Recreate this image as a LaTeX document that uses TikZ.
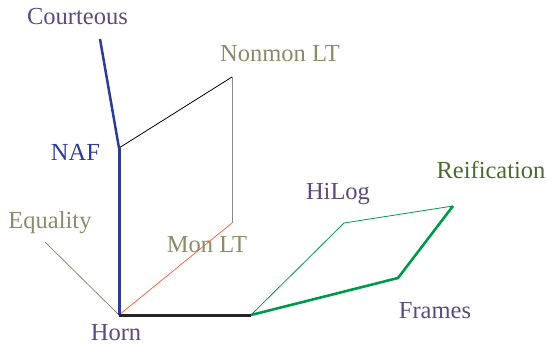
\documentclass[tikz,border=0pt]{standalone}
\usepackage{fontspec}
\setmainfont{Liberation Serif}
\definecolor{cpurple}{HTML}{5E4A7E}
\definecolor{cblue}{HTML}{2E3C96}
\definecolor{colive}{HTML}{8A8C6C}
\definecolor{cdgreen}{HTML}{4A6A2E}
\definecolor{cgreen}{HTML}{00994A}
\definecolor{cred}{HTML}{F06A4A}
\definecolor{cgray}{HTML}{8A8A8A}
\tikzset{lbl/.style={inner sep=0pt, anchor=base, font=\fontsize{24.5}{28}\selectfont}}
\begin{document}
\begin{tikzpicture}[x=1pt,y=-1pt]
\useasboundingbox (0,0) rectangle (548,345);
% points
\coordinate (horn) at (119,315);
\coordinate (naf) at (119,148);
\coordinate (court) at (100,39);
\coordinate (nonmon) at (232,77);
\coordinate (mon) at (232,223);
\coordinate (eq) at (45,242);
\coordinate (mid) at (251,315);
\coordinate (hilog) at (344,223);
\coordinate (reif) at (453,206);
\coordinate (frames) at (398,278);
% lines
\draw[colive, line width=0.8pt] (horn) -- (eq);
\draw[cred, line width=0.8pt] (horn) -- (mon);
\draw[cgray, line width=0.8pt] (mon) -- (nonmon);
\draw[black, line width=0.8pt] (naf) -- (nonmon);
\draw[cblue, line width=3pt] (horn) -- (naf);
\draw[cblue, line width=2.5pt] (naf) -- (court);
\draw[cgreen, line width=0.8pt] (mid) -- (hilog) -- (reif);
\draw[cgreen, line width=2.6pt, line join=round] (mid) -- (frames) -- (reif);
\draw[black!85, line width=3pt] (horn) -- (mid);
% labels
\node[lbl, text=cpurple] (lcourt) at (77.5,25) {Courteous};
\node[lbl, text=cblue] (lnaf) at (75.5,160) {NAF};
\node[lbl, text=colive] (lnonmon) at (280,61) {Nonmon LT};
\node[lbl, text=colive] (lmon) at (207,252) {Mon LT};
\node[lbl, text=colive] (leq) at (50,228) {Equality};
\node[lbl, text=cpurple] (lhorn) at (116,340) {Horn};
\node[lbl, text=cpurple] (lhilog) at (338,199) {HiLog};
\node[lbl, text=cdgreen] (lreif) at (491,178) {Reification};
\node[lbl, text=cpurple] (lframes) at (435,318) {Frames};
\end{tikzpicture}
\end{document}
